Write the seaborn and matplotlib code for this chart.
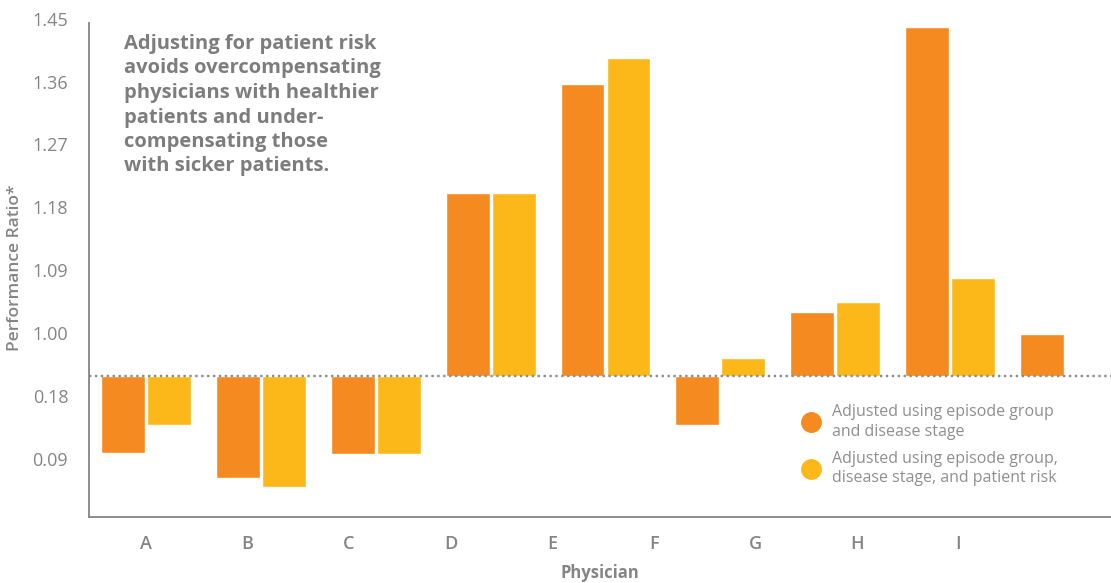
import numpy as np
import pandas as pd
import matplotlib.pyplot as plt
import seaborn as sns
from matplotlib.lines import Line2D

# ── Data ────────────────────────────────────────────────────────────────
PHYSICIANS   = ["A", "B", "C", "D", "E", "F", "G", "H", "I"]
EPISODE_ONLY = [0.829, 0.793, 0.827, 1.201, 1.357, 0.869, 1.031, 1.438, 0.999]
WITH_RISK    = [0.869, 0.780, 0.827, 1.201, 1.394, 0.964, 1.044, 1.079, np.nan]
BASELINE     = 0.939   # dotted reference line the bars hang from

TICK_VALUES = [0.82, 0.91, 1.00, 1.09, 1.18, 1.27, 1.36, 1.45]
TICK_LABELS = ["0.09", "0.18", "1.00", "1.09", "1.18", "1.27", "1.36", "1.45"]

SERIES = ["Adjusted using episode group\nand disease stage",
          "Adjusted using episode group,\ndisease stage, and patient risk"]
COLORS = ["#F58A20", "#FCB818"]
GREY   = "#858585"

df = pd.DataFrame({
    "physician": PHYSICIANS * 2,
    "series": [SERIES[0]] * len(PHYSICIANS) + [SERIES[1]] * len(PHYSICIANS),
    "ratio": EPISODE_ONLY + WITH_RISK,
}).dropna()
df["dev"] = df["ratio"] - BASELINE

sns.set_style("white")
plt.rcParams["font.family"] = ["Open Sans", "DejaVu Sans"]

fig = plt.figure(figsize=(11.11, 5.83), dpi=100)
ax = fig.add_axes([89 / 1111, 1 - 517 / 583, 1 - 89 / 1111, 499 / 583])

sns.barplot(data=df, x="physician", y="dev", hue="series", order=PHYSICIANS,
            hue_order=SERIES, palette=COLORS, saturation=1, width=0.8, gap=0.045,
            errorbar=None, legend=False, ax=ax, zorder=2)

ax.axhline(0, color="#8c8c8c", lw=1.7, ls=(0, (1, 1.5)), zorder=3)

ax.set_xlim(-0.496, 8.40)
ax.set_ylim(0.737 - BASELINE, 1.451 - BASELINE)
ax.set_yticks([v - BASELINE for v in TICK_VALUES], TICK_LABELS)
# letter labels sit on their own (narrower) spacing in the original
ax.set_xticks(np.arange(len(PHYSICIANS)) * 0.884, PHYSICIANS)
ax.tick_params(axis="both", length=0, colors=GREY, labelsize=13)
ax.tick_params(axis="y", pad=15)
ax.tick_params(axis="x", pad=13)
for lab in ax.get_xticklabels():
    lab.set_fontweight("semibold")

for side in ["top", "right"]:
    ax.spines[side].set_visible(False)
for side in ["left", "bottom"]:
    ax.spines[side].set_color(GREY)
    ax.spines[side].set_linewidth(1.3)
ax.spines["left"].set_bounds(0.737 - BASELINE, 1.444 - BASELINE)

ax.set_xlabel("Physician", color=GREY, fontsize=12, fontweight="bold", labelpad=8)
ax.set_ylabel("Performance Ratio*", color=GREY, fontsize=12.5, fontweight="semibold",
              labelpad=7)

ax.text(124 / 1111, 1 - 34 / 583,
        "Adjusting for patient risk\navoids overcompensating\nphysicians with healthier\n"
        "patients and under-\ncompensating those\nwith sicker patients.",
        transform=fig.transFigure, ha="left", va="top", fontsize=14.5,
        fontweight="bold", color="#7d7d7d", linespacing=1.3)

handles = [Line2D([], [], marker="o", ls="", ms=14, color=c) for c in COLORS]
leg = fig.legend(handles, SERIES, loc="upper left",
                 bbox_to_anchor=(787 / 1111, 1 - 396 / 583),
                 frameon=False, fontsize=11.5, labelcolor="#8f8f8f",
                 handletextpad=0.3, labelspacing=0.7, borderpad=0)
for t in leg.get_texts():
    t.set_linespacing(1.3)

plt.savefig("out.png", dpi=100)
